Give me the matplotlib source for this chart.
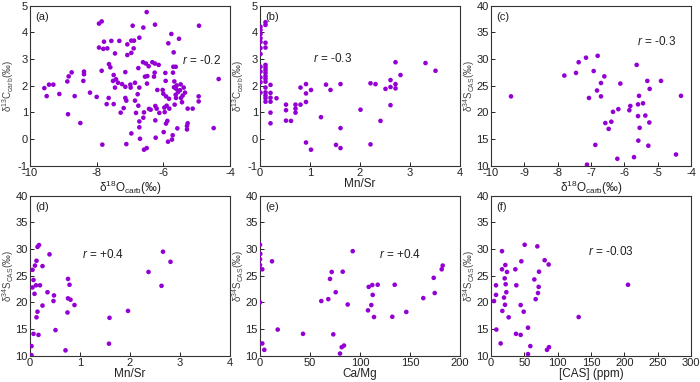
import matplotlib
matplotlib.use('Agg')
import matplotlib.pyplot as plt

plt.rcParams['font.family'] = ['Liberation Sans', 'DejaVu Sans']
plt.rcParams['mathtext.fontset'] = 'custom'
plt.rcParams['mathtext.rm'] = 'Liberation Sans'
plt.rcParams['mathtext.it'] = 'Liberation Sans:italic'
plt.rcParams['axes.unicode_minus'] = False

# (a) d18O carb vs d13C carb
a_o18 = [-9.57, -9.50, -9.43, -9.30, -9.12, -8.88, -8.84, -8.75, -8.86, -8.66, -8.49, -8.38, -8.38, -8.40,
         -8.20, -8.00, -7.93, -7.85, -7.93, -7.78, -7.80, -7.68, -7.85, -7.63, -7.59, -7.64, -7.70, -7.49,
         -7.83, -7.56, -7.45, -7.49, -7.51, -7.42, -7.45, -7.36, -7.32, -7.28, -7.24, -7.19, -7.14, -7.14,
         -7.14, -7.11, -7.11, -7.08, -7.08, -6.96, -6.96, -6.98, -6.99, -6.96, -6.92, -6.88, -6.89, -6.85,
         -6.85, -6.82, -6.77, -6.75, -6.72, -6.72, -6.75, -6.72, -6.72, -6.70, -6.61, -6.60, -6.58, -6.60,
         -6.58, -6.55, -6.52, -6.50, -6.50, -6.48, -6.49, -6.44, -6.43, -6.38, -6.33, -6.28, -6.26, -6.25,
         -6.25, -6.24, -6.24, -6.23, -6.20, -6.18, -6.14, -6.12, -6.02, -6.00, -5.99, -5.97, -5.96, -5.94,
         -5.93, -5.92, -5.92, -5.90, -5.88, -5.86, -5.85, -5.83, -5.82, -5.76, -5.74, -5.72, -5.71, -5.70,
         -5.69, -5.68, -5.67, -5.66, -5.63, -5.63, -5.62, -5.62, -5.60, -5.58, -5.56, -5.53, -5.50, -5.48,
         -5.47, -5.44, -5.42, -5.39, -5.35, -5.29, -5.29, -5.27, -5.27, -5.12, -4.93, -4.94, -4.94, -4.49,
         -4.34]
a_c13 = [1.91, 1.61, 2.04, 2.04, 1.69, 2.16, 2.35, 2.50, 0.93, 1.61, 0.60, 2.53, 2.43, 2.18,
         1.74, 1.58, 4.33, 4.41, 3.43, 3.65, 3.38, 3.40, 2.56, 2.81, 2.69, 1.54, 1.31, 1.31,
         -0.21, 3.68, 3.21, 2.40, 2.18, 2.24, 1.93, 2.11, 3.68, 0.99, 2.06, 1.16, 2.51, 1.96,
         1.54, 1.44, -0.19, 3.55, 3.15, 3.69, 3.23, 1.93, 2.04, 0.21, 4.25, 3.69, 3.40, 2.11,
         1.44, 0.98, 1.68, 2.66, 3.80, 1.93, 1.25, 0.66, 0.44, 0.01, 2.88, 4.18, 1.00, 0.80,
         -0.40, 2.34, 2.83, -0.34, 4.76, 2.36, 2.08, 2.73, 1.13, 1.10, 2.88, 2.34, 2.49, 4.29,
         2.83, 1.24, 0.70, 0.05, 1.14, 1.84, 2.78, 0.98, 1.84, 1.70, 0.26, 1.18, 1.01, 2.48,
         2.18, 1.60, 0.58, 1.25, 0.68, -0.10, 3.59, 1.51, 1.14, 3.94, -0.02, 0.14, 2.49, 2.71,
         3.25, 1.94, 2.16, 1.29, 2.71, 1.66, 1.89, 1.54, 2.01, 0.40, 1.76, 3.76, 1.83, 2.05,
         1.54, 1.38, 1.63, 1.93, 1.74, 0.49, 0.36, 1.14, 0.59, 1.14, 4.25, 1.60, 1.41, 0.41,
         2.25]

# (b) Mn/Sr vs d13C carb
b_mnsr = [0.01] * 12 + [0.11] * 16 + [0.21] * 6 + [
    0.33, 0.52, 0.52, 0.52, 0.62, 0.71, 0.71, 0.71, 0.81, 0.81, 0.92, 0.92, 0.92, 0.92,
    1.02, 1.02, 1.22, 1.41, 1.32, 1.52, 1.61, 1.61, 1.61, 2.01, 2.21, 2.21, 2.31, 2.41,
    2.51, 2.61, 2.61, 2.61, 2.71, 2.71, 2.71, 2.81, 3.31, 3.51]
b_c13 = [4.21, 4.09, 3.94, 3.78, 3.64, 3.41, 3.19, 2.71, 2.53, 2.31, 2.13, 1.74,
         4.38, 4.28, 3.61, 3.43, 2.78, 2.68, 2.58, 2.48, 2.36, 2.26, 2.15, 1.93, 1.75, 1.63, 1.53, 1.40,
         2.03, 1.73, 1.55, 1.40, 0.99, 0.59,
         1.53, 1.29, 1.08, 0.69, 0.68, 1.29, 1.14, 0.99, 1.93, 1.29, 2.06, 1.71, 1.39, -0.13,
         1.84, -0.40, 0.82, 1.84, 2.04, -0.22, 2.06, 0.41, -0.34, 1.10, 2.09, -0.20, 2.06, 0.68,
         1.88, 2.21, 1.95, 1.27, 2.88, 2.06, 1.90, 2.40, 2.85, 2.56]

# (c) d18O carb vs d34S CAS
c_o18 = [-9.40, -7.80, -7.45, -7.37, -7.15, -6.80, -6.92, -6.82, -6.70, -6.70, -7.06, -6.60, -7.12,
         -6.87, -6.57, -6.47, -6.39, -6.34, -6.18, -6.12, -6.21, -5.85, -5.82, -5.71, -5.63, -5.59,
         -5.59, -5.58, -5.56, -5.54, -5.44, -5.37, -5.31, -5.28, -5.24, -5.25, -4.90, -4.45, -4.30]
c_s34 = [23.0, 26.9, 27.4, 29.4, 30.25, 30.6, 27.75, 24.1, 25.5, 23.0, 22.7, 26.75, 10.2,
         13.9, 18.0, 16.9, 18.25, 20.1, 20.6, 25.4, 11.3, 20.4, 21.2, 11.6, 28.9, 21.5,
         19.3, 14.7, 23.1, 17.1, 21.7, 19.4, 25.9, 13.75, 24.4, 18.1, 25.9, 12.1, 23.1]

# (d) Mn/Sr vs d34S CAS
d_mnsr = [0.03, 0.03, 0.05, 0.05, 0.07, 0.07, 0.09, 0.10, 0.12, 0.13, 0.13, 0.15, 0.15, 0.18, 0.17,
          0.20, 0.25, 0.25, 0.35, 0.39, 0.47, 0.48, 0.51, 0.71, 0.75, 0.76, 0.76, 0.79, 0.81, 0.89,
          1.59, 1.58, 1.96, 2.37, 2.63, 2.66, 2.81]
d_s34 = [10.1, 11.8, 22.8, 26.1, 24.2, 14.1, 21.6, 26.9, 23.2, 27.8, 17.2, 18.25, 30.4, 30.75, 13.9,
         23.2, 26.8, 19.4, 21.9, 29.0, 20.25, 21.3, 14.8, 11.0, 18.1, 24.4, 20.75, 23.3, 20.5, 19.5,
         17.1, 12.25, 18.4, 25.7, 23.1, 29.5, 27.6]

# (e) Ca/Mg vs d34S CAS
e_camg = [0.0, 0.3, 0.0, 0.0, 0.0, 2.3, 2.3, 4.3, 12.0, 17.7, 43.0, 61.3, 68.3, 70.0, 71.7, 73.3,
          75.7, 80.0, 81.7, 84.0, 82.7, 87.7, 92.7, 108.0, 108.7, 111.3, 112.3, 112.7, 114.0, 117.7,
          132.3, 134.7, 146.3, 163.3, 173.7, 174.7, 181.7, 182.7]
e_s34 = [30.8, 29.1, 28.1, 27.0, 20.0, 26.2, 12.3, 11.1, 27.7, 14.9, 14.1, 20.25, 20.6, 24.4, 25.7, 14.0,
         21.9, 10.4, 11.6, 11.9, 25.75, 19.6, 29.6, 18.5, 22.9, 19.5, 23.25, 21.4, 17.25, 23.3,
         17.3, 23.3, 18.2, 20.8, 24.6, 21.75, 26.2, 26.9]

# (f) [CAS] vs d34S CAS
f_cas = [4.5, 7.5, 7.5, 8.0, 14.5, 16.5, 16.5, 17.0, 19.5, 20.5, 21.0, 21.5, 22.0, 23.0, 24.0, 26.5,
         36.5, 37.5, 38.0, 44.5, 44.5, 45.5, 49.0, 50.5, 55.5, 55.5, 59.0, 65.0, 67.0, 69.5, 70.5,
         71.5, 72.0, 80.5, 84.0, 87.0, 86.5, 131.5, 205.5]
f_s34 = [20.25, 23.2, 21.4, 14.9, 12.3, 29.6, 26.2, 18.4, 20.9, 24.5, 19.55, 27.0, 23.4, 21.9, 25.7, 17.2,
         26.2, 14.1, 23.2, 19.5, 13.9, 27.7, 18.25, 30.8, 15.25, 10.3, 11.8, 24.3, 20.6, 30.5, 21.75,
         22.9, 25.75, 27.9, 11.1, 11.6, 27.1, 17.25, 23.3]

c_label = 'δ$^{13}$C$_{\\rm carb}$(‰)'
s_label = 'δ$^{34}$S$_{\\rm CAS}$(‰)'
o_label = 'δ$^{18}$O$_{\\rm carb}$(‰)'

panels = [
    ('(a)', a_o18, a_c13, (-10, -4), (-1, 5), o_label, c_label, '$r$ = -0.2', (0.76, 0.66)),
    ('(b)', b_mnsr, b_c13, (0, 4), (-1, 5), 'Mn/Sr', c_label, '$r$ = -0.3', (0.265, 0.67)),
    ('(c)', c_o18, c_s34, (-10, -4), (10, 40), o_label, s_label, '$r$ = -0.3', (0.73, 0.775)),
    ('(d)', d_mnsr, d_s34, (0, 4), (10, 40), 'Mn/Sr', s_label, '$r$ = +0.4', (0.26, 0.633)),
    ('(e)', e_camg, e_s34, (0, 200), (10, 40), 'Ca/Mg', s_label, '$r$ = +0.4', (0.595, 0.633)),
    ('(f)', f_cas, f_s34, (0, 300), (10, 40), '[CAS] (ppm)', s_label, '$r$ = -0.03', (0.485, 0.654)),
]

fig = plt.figure(figsize=(7, 3.82), dpi=100)
col_left = [30, 260, 491]
row_bottom = [165.7, 355.7]
ink = '#222222'

for i, (tag, xs, ys, xlim, ylim, xlab, ylab, rtxt, rpos) in enumerate(panels):
    left = col_left[i % 3] / 700
    bottom = 1 - row_bottom[i // 3] / 382
    ax = fig.add_axes([left, bottom, 200 / 700, 160 / 382])
    ax.scatter(xs, ys, s=11, color='#9400d3', edgecolors='none', zorder=3)
    ax.set_xlim(*xlim)
    ax.set_ylim(*ylim)
    ax.set_xlabel(xlab, fontsize=8.5, labelpad=0.5, color=ink)
    ax.set_ylabel(ylab, fontsize=7, color='#444444')
    ax.yaxis.set_label_coords(-0.07, 0.5)
    ax.tick_params(direction='in', length=3, width=0.7, labelsize=8, pad=1.5,
                   colors=ink)
    for sp in ax.spines.values():
        sp.set_linewidth(0.8)
        sp.set_color('#333333')
    ax.text(0.025, 0.96, tag, transform=ax.transAxes, fontsize=8, va='top', ha='left', color=ink)
    ax.text(rpos[0], rpos[1], rtxt, transform=ax.transAxes, fontsize=8.5, va='center', ha='left',
            color=ink)

fig.savefig('out.png', dpi=100)
